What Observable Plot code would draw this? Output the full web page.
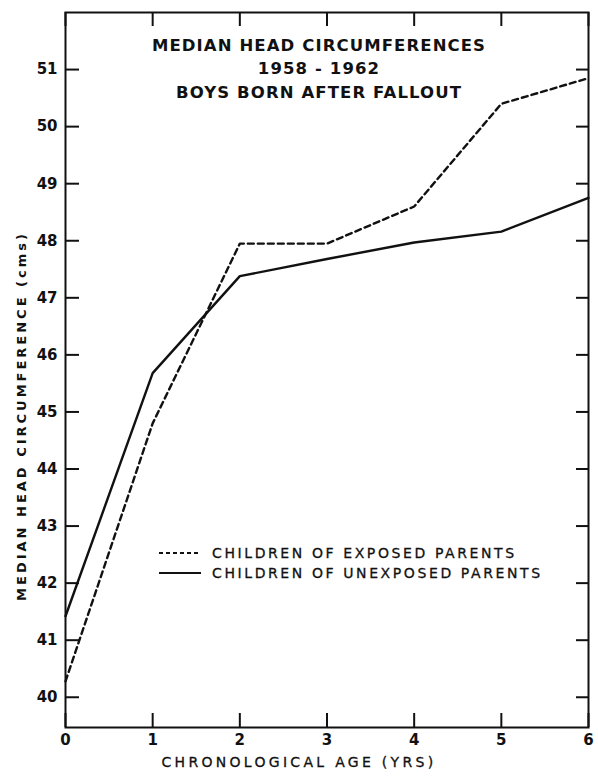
<!DOCTYPE html>
<html>
<head>
<meta charset="utf-8">
<script src="https://cdn.jsdelivr.net/npm/d3@7"></script>
<script src="https://cdn.jsdelivr.net/npm/@observablehq/plot@0.6"></script>
<style>
  html, body { margin: 0; padding: 0; background: #fff; overflow: hidden; }
  #wrap { position: relative; width: 598px; height: 776px; }
  #legend { position: absolute; left: 158px; top: 543px; font-family: "DejaVu Sans", sans-serif; font-size: 14px; letter-spacing: 2.6px; color: #111; -webkit-text-stroke: 0.3px #111; }
  #legend .row { display: flex; align-items: center; height: 20px; }
  #legend svg { margin-right: 10px; }
</style>
</head>
<body>
<div id="wrap"></div>
<script>
const ages = [0, 1, 2, 3, 4, 5, 6];
const exposed = [40.28, 44.8, 47.95, 47.95, 48.6, 50.4, 50.85];
const unexposed = [41.42, 45.68, 47.38, 47.68, 47.97, 48.16, 48.75];
const xTicks = [0, 1, 2, 3, 4, 5, 6];
const yTicks = [40, 41, 42, 43, 44, 45, 46, 47, 48, 49, 50, 51];
const titleLines = ["MEDIAN HEAD CIRCUMFERENCES", "1958 - 1962", "BOYS BORN AFTER FALLOUT"];
const seriesNames = ["CHILDREN OF EXPOSED PARENTS", "CHILDREN OF UNEXPOSED PARENTS"];
const yLabel = "MEDIAN HEAD CIRCUMFERENCE (cms)";
const xLabel = "CHRONOLOGICAL AGE (YRS)";

const W = 598, H = 776;
const mL = 65, mR = 10, mT = 12, mB = 49;
const pw = W - mL - mR, ph = H - mT - mB;
const tick = 14;

const expData = ages.map((a, i) => ({age: a, v: exposed[i]}));
const unexpData = ages.map((a, i) => ({age: a, v: unexposed[i]}));

const font = "DejaVu Sans, sans-serif";

const chart = Plot.plot({
  width: W, height: H,
  marginLeft: mL, marginRight: mR, marginTop: mT, marginBottom: mB,
  style: {fontFamily: font, background: "#fff", color: "#111"},
  x: {domain: [0, 6]},
  y: {domain: [39.47, 52.0]},
  marks: [
    Plot.frame({stroke: "#111", strokeWidth: 2}),
    // inward ticks: left, right, top, bottom
    Plot.tickY(yTicks, {y: d => d, insetRight: pw - tick, stroke: "#111", strokeWidth: 2}),
    Plot.tickY(yTicks, {y: d => d, insetLeft: pw - 12, stroke: "#111", strokeWidth: 2}),
    Plot.tickX(xTicks, {x: d => d, insetBottom: ph - tick, stroke: "#111", strokeWidth: 2}),
    Plot.tickX(xTicks, {x: d => d, insetTop: ph - tick, stroke: "#111", strokeWidth: 2}),
    // tick labels
    Plot.axisY(yTicks, {anchor: "left", tickSize: 0, tickPadding: 8, label: null,
      fontSize: 15, fontWeight: "bold", tickFormat: d => String(d)}),
    Plot.axisX(xTicks, {anchor: "bottom", tickSize: 0, tickPadding: 7, label: null,
      fontSize: 15, fontWeight: "bold", tickFormat: d => String(d)}),
    // series
    Plot.line(unexpData, {x: "age", y: "v", stroke: "#111", strokeWidth: 2.4}),
    Plot.line(expData, {x: "age", y: "v", stroke: "#111", strokeWidth: 2.4, strokeDasharray: "6,4"}),
    // title
    Plot.text(titleLines, {frameAnchor: "top", text: d => d,
      fontSize: 16.5, fontWeight: "bold", lineAnchor: "middle"})
  ]
});

document.getElementById("wrap").appendChild(chart);
const svg = d3.select(chart);
svg.selectAll("text").filter(function() { return titleLines.includes(this.textContent); })
  .each(function() {
    const i = titleLines.indexOf(this.textContent);
    d3.select(this).attr("transform", `translate(${mL + pw/2 - 8},${50 + i*23.5})`)
      .attr("x", 0).attr("y", 0)
      .style("letter-spacing", "1.1px");
  });

// axis labels
svg.append("text")
  .attr("transform", `translate(22,${416}) rotate(-90)`)
  .attr("text-anchor", "middle").attr("dominant-baseline", "middle")
  .style("font-family", font).style("font-size", "13px").style("font-weight", "bold")
  .style("letter-spacing", "3px")
  .attr("fill", "#111").text(yLabel);
svg.append("text")
  .attr("x", 299).attr("y", 763)
  .attr("text-anchor", "middle").attr("dominant-baseline", "middle")
  .style("font-family", font).style("font-size", "14px").style("letter-spacing", "3.3px")
  .attr("fill", "#111").attr("stroke", "#111").attr("stroke-width", 0.3).text(xLabel);

// legend
const leg = document.createElement("div");
leg.id = "legend";
leg.innerHTML = seriesNames.map((n, i) => `<div class="row"><svg width="44" height="10"><line x1="1" x2="43" y1="5" y2="5" stroke="#111" stroke-width="${i===0?1.8:2.2}" ${i===0?'stroke-dasharray="4,3"':''}/></svg><span>${n}</span></div>`).join("");
document.getElementById("wrap").appendChild(leg);
</script>
</body>
</html>
